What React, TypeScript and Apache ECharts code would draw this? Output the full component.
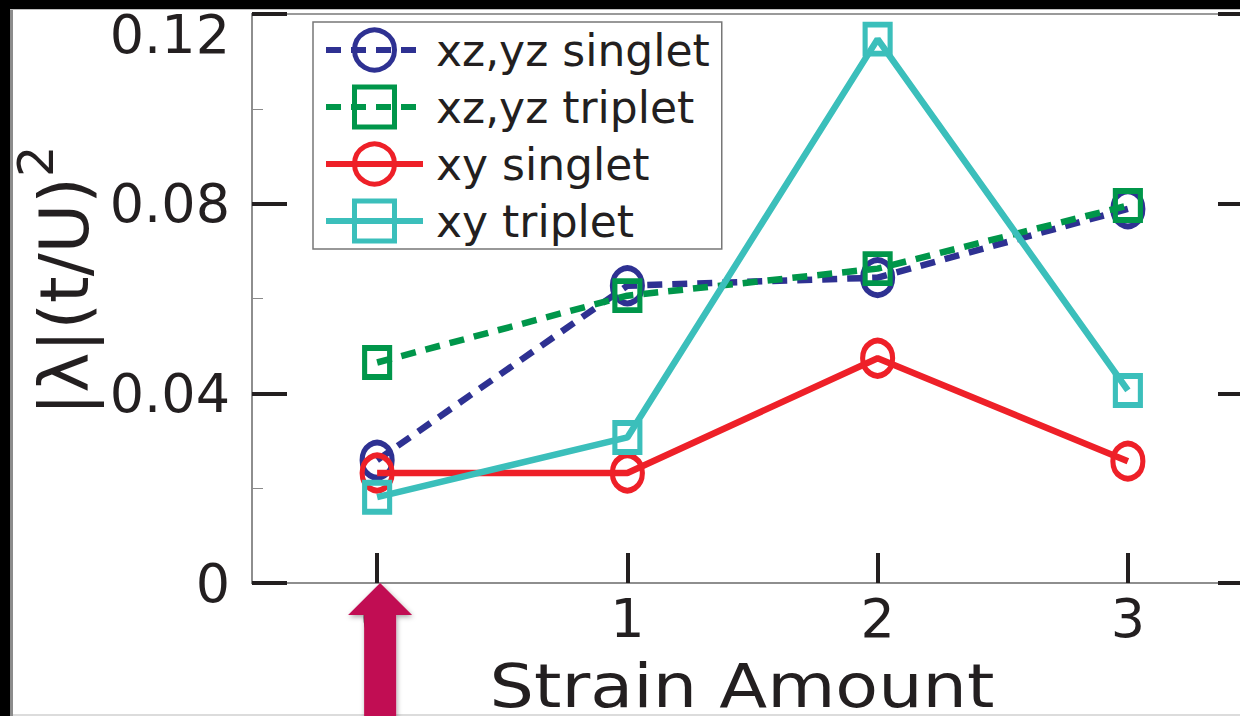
import { useEffect, useRef } from "react";
import * as echarts from "echarts";

// Strain amount categories on the x axis
const strainAmounts = ["0", "1", "2", "3"];

// |λ|(t/U)^2 for each pairing channel
const xzyzSinglet = [0.0259, 0.0627, 0.0644, 0.0789];
const xzyzTriplet = [0.0465, 0.0606, 0.0663, 0.0796];
const xySinglet = [0.0232, 0.0232, 0.0474, 0.0257];
const xyTriplet = [0.0181, 0.0307, 0.1147, 0.0406];

const seriesNames = ["xz,yz singlet", "xz,yz triplet", "xy singlet", "xy triplet"];
const seriesColors = ["#2E3192", "#00964A", "#EE2028", "#3BBFBB"];

const xTitle = "Strain Amount";

// y axis range and major tick step
const yMin = 0;
const yMax = 0.12;
const yStep = 0.04;

const FONT = "'DejaVu Sans', 'Liberation Sans', sans-serif";
const INK = "#231F20";

export default function App() {
  const ref = useRef<HTMLDivElement>(null);

  useEffect(() => {
    if (!ref.current) return;
    const chart = echarts.init(ref.current, null, { renderer: "svg" });

    const values = [xzyzSinglet, xzyzTriplet, xySinglet, xyTriplet];
    const symbols = ["circle", "rect", "circle", "rect"];
    const dashed = [true, true, false, false];

    const series = values.map((data, i) => ({
      name: seriesNames[i],
      type: "line",
      data,
      symbol: symbols[i],
      symbolSize: symbols[i] === "circle" ? [30, 35] : [25, 29],
      itemStyle: {
        color: "transparent",
        borderColor: seriesColors[i],
        borderWidth: 5.5,
      },
      lineStyle: {
        color: seriesColors[i],
        width: 6.5,
        type: dashed[i] ? [15, 10] : "solid",
      },
      emphasis: { disabled: true },
      z: 2 + i,
    }));

    chart.setOption({
      animation: false,
      backgroundColor: "#ffffff",
      color: seriesColors,
      textStyle: { fontFamily: FONT, color: INK },
      grid: {
        left: 252,
        top: 14,
        right: -13,
        bottom: 133,
        outerBoundsMode: "none",
        containLabel: false,
        show: true,
        borderColor: "#9a9a9a",
        borderWidth: 2,
        backgroundColor: "transparent",
      },
      legend: {
        orient: "vertical",
        left: 313,
        top: 22,
        padding: [3, 12, 3, 10],
        itemGap: 7,
        itemWidth: 97,
        itemHeight: 50,
        itemTextGap: 17,
        borderColor: "#777777",
        borderWidth: 1.5,
        backgroundColor: "#ffffff",
        selectedMode: false,
        lineStyle: { width: 6 },
        itemStyle: { borderWidth: 5 },
        textStyle: {
          fontSize: 44,
          fontFamily: FONT,
          color: INK,
          lineHeight: 50,
          padding: [0, 0, 0, 8],
        },
        data: seriesNames,
      },
      xAxis: {
        type: "category",
        data: strainAmounts,
        boundaryGap: true,
        axisLine: { show: true, lineStyle: { color: "#8a8a8a", width: 1.5 } },
        axisTick: {
          show: true,
          inside: true,
          alignWithLabel: true,
          length: 30,
          lineStyle: { color: INK, width: 4 },
        },
        axisLabel: { fontSize: 54, fontFamily: FONT, color: INK, margin: 8 },
        splitLine: { show: false },
      },
      yAxis: [
        {
          type: "value",
          min: yMin,
          max: yMax,
          interval: yStep,
          name: "{m||λ|(t/U)}{s|2}",
          nameLocation: "middle",
          nameGap: 140,
          nameTextStyle: {
            fontFamily: FONT,
            color: INK,
            padding: [0, 0, 0, 36],
            rich: {
              m: { fontSize: 68, fontFamily: FONT, color: INK, lineHeight: 88, verticalAlign: "bottom" },
              s: { fontSize: 50, fontFamily: FONT, color: INK, verticalAlign: "top" },
            },
          },
          axisLine: { show: true, lineStyle: { color: "#8a8a8a", width: 1.5 } },
          axisTick: { show: true, inside: true, length: 35, lineStyle: { color: INK, width: 4 } },
          minorTick: { show: true, splitNumber: 2, length: 11, lineStyle: { color: "#8a8a8a", width: 1 } },
          axisLabel: {
            fontSize: 54,
            lineHeight: 40,
            fontFamily: FONT,
            color: INK,
            margin: 22,
            padding: [0, 0, 14, 0],
            verticalAlignMaxLabel: "top",
            formatter: (v: number) => (v === 0 ? "0" : v.toFixed(2)),
          },
          splitLine: { show: false },
          minorSplitLine: { show: false },
        },
        {
          type: "value",
          position: "right",
          min: yMin,
          max: yMax,
          interval: yStep,
          axisLine: { show: false },
          axisTick: { show: true, inside: true, length: 35, lineStyle: { color: INK, width: 4 } },
          axisLabel: { show: false },
          splitLine: { show: false },
        },
      ],
      series,
    });

    // Arrow pointing up at the unstrained (0) category
    const [px, py] = chart.convertToPixel({ gridIndex: 0 }, [0, 0]) as number[];
    const ax = px + 3;
    const headH = 32;
    const headW = 32;
    const shaftW = 16;

    chart.setOption({
      graphic: [
        { type: "rect", shape: { x: 0, y: 0, width: 1240, height: 9 }, style: { fill: "#000" }, z: 100 },
        { type: "rect", shape: { x: 0, y: 0, width: 10, height: 716 }, style: { fill: "#000" }, z: 100 },
        { type: "rect", shape: { x: 10, y: 9, width: 3, height: 707 }, style: { fill: "#8c8c8c" }, z: 100 },
        { type: "rect", shape: { x: 10, y: 9, width: 1230, height: 1 }, style: { fill: "#bdbdbd" }, z: 100 },
        { type: "rect", shape: { x: 13, y: 714, width: 1227, height: 2 }, style: { fill: "#dcdcdc" }, z: 100 },
        // x axis title, widened to the figure's letterforms
        {
          type: "text",
          x: 742,
          y: 716,
          scaleX: 1.148,
          z: 110,
          style: {
            text: xTitle,
            fontSize: 61,
            fontFamily: FONT,
            fill: INK,
            align: "center",
            verticalAlign: "bottom",
          },
        },
        {
          type: "polygon",
          z: 120,
          shape: {
            points: [
              [ax, py],
              [ax + headW, py + headH],
              [ax + shaftW, py + headH],
              [ax + shaftW, 740],
              [ax - shaftW, 740],
              [ax - shaftW, py + headH],
              [ax - headW, py + headH],
            ],
          },
          style: {
            fill: "#C10D52",
            shadowBlur: 5,
            shadowColor: "rgba(0,0,0,0.35)",
            shadowOffsetX: 1,
            shadowOffsetY: 2,
          },
        },
      ],
    });

    return () => chart.dispose();
  }, []);

  return (
    <div
      ref={ref}
      style={{ position: "fixed", left: 0, top: 0, width: 1240, height: 716, background: "#fff" }}
    />
  );
}
